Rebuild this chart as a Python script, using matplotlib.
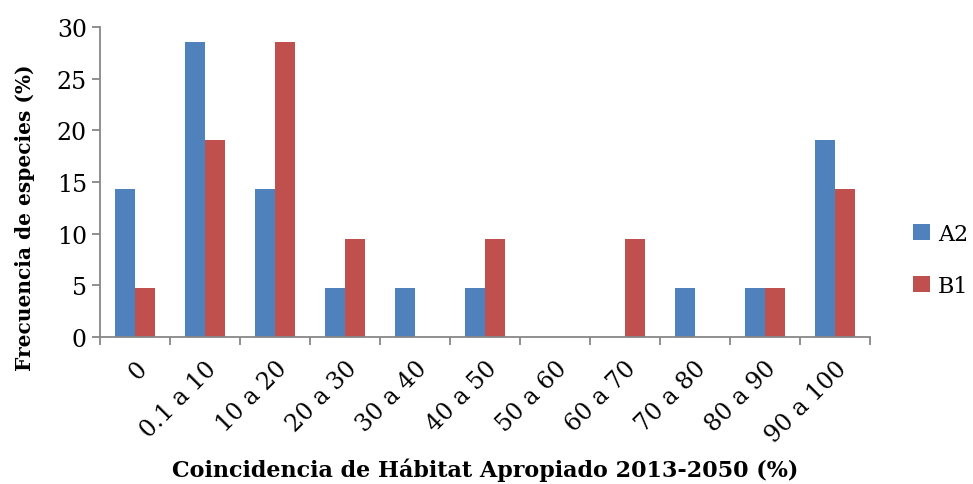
import numpy as np
import matplotlib.pyplot as plt

categories = ['0', '0.1 a 10', '10 a 20', '20 a 30', '30 a 40', '40 a 50',
              '50 a 60', '60 a 70', '70 a 80', '80 a 90', '90 a 100']
a2 = [14.29, 28.57, 14.29, 4.76, 4.76, 4.76, 0, 0, 4.76, 4.76, 19.05]
b1 = [4.76, 19.05, 28.57, 9.52, 0, 9.52, 0, 9.52, 0, 4.76, 14.29]

plt.rcParams['font.family'] = ['DejaVu Serif']

fig = plt.figure(figsize=(9.73, 4.85), dpi=100)
ax = fig.add_axes([0.1028, 0.303, 0.791, 0.639])

x = np.arange(len(categories))
w = 0.2857
ax.bar(x - w / 2, a2, w, color='#4F81BD', label='A2')
ax.bar(x + w / 2, b1, w, color='#C0504D', label='B1')

ax.set_xlim(-0.5, len(categories) - 0.5)
ax.set_ylim(0, 30)
ax.set_yticks(range(0, 31, 5))
ax.set_xticks(x)
ax.set_xticklabels(categories, rotation=45, ha='right', rotation_mode='anchor', fontsize=17)
ax.set_xticks(np.arange(-0.5, len(categories)), minor=True)
ax.tick_params(axis='x', which='major', length=0, pad=14)
ax.tick_params(axis='x', which='minor', length=6, color='#878787', width=1.3, direction='out')
ax.tick_params(axis='y', length=6, color='#878787', width=1.3, labelsize=17)

for s in ['top', 'right']:
    ax.spines[s].set_visible(False)
for s in ['left', 'bottom']:
    ax.spines[s].set_color('#878787')
    ax.spines[s].set_linewidth(1.3)

fig.text(0.026, 0.55, 'Frecuencia de especies (%)', rotation=90, ha='center', va='center',
         fontsize=14.5, fontweight='bold')
ax.set_xlabel('Coincidencia de Hábitat Apropiado 2013-2050 (%)', fontsize=16, fontweight='bold', labelpad=8)

ax.legend(loc='center left', bbox_to_anchor=(1.045, 0.25), frameon=False, fontsize=16,
          handlelength=0.75, handleheight=0.75, handletextpad=0.35, labelspacing=1.35,
          borderaxespad=0)

fig.savefig('out.png', dpi=100)
